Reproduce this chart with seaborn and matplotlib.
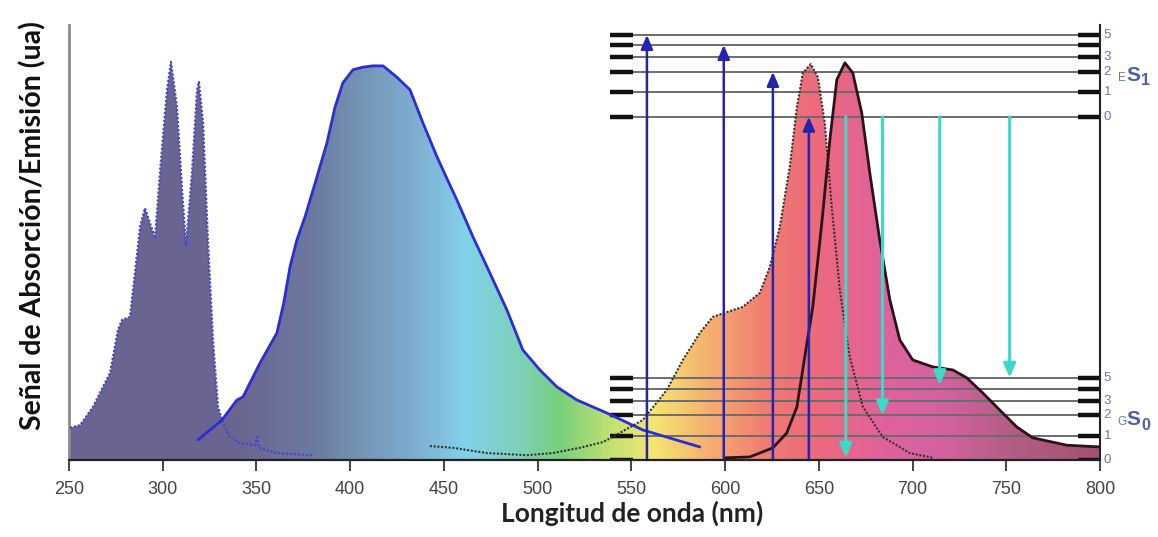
import numpy as np
import pandas as pd
import matplotlib
matplotlib.use("Agg")
import matplotlib.pyplot as plt
import seaborn as sns
from matplotlib.colors import LinearSegmentedColormap
from matplotlib.path import Path
from matplotlib.patches import PathPatch

# ---------------- data ----------------
# absorption band of the UV dye (dotted blue outline)
abs1_nm = [250.5, 255.9, 262.8, 268.1, 271.9, 276.1, 278.3, 282.5, 285.2, 287.9,
           290.5, 295.9, 298.5, 302.3, 304.4, 307.6, 310.3, 312.4, 315.6, 318.3,
           319.3, 321.5, 324.1, 326.8, 329.5, 332.1, 335.9, 341.2, 349.2, 350.3,
           351.2, 360.9, 380.1]
abs1_val = [7.4, 8.0, 12.2, 16.8, 20.0, 29.9, 32.2, 32.9, 43.0, 53.6,
            57.9, 51.0, 66.0, 85.1, 91.5, 81.1, 62.1, 49.4, 66.0, 85.1,
            86.9, 77.5, 50.6, 27.6, 12.2, 8.5, 5.3, 3.9, 3.4, 5.7,
            2.8, 1.6, 1.1]

# emission band of the UV dye (solid blue outline)
em1_nm = [318.8, 331.6, 339.6, 342.8, 351.9, 360.9, 364.5, 367.9, 371.5, 375.9,
          382.3, 387.6, 391.9, 396.1, 401.5, 406.8, 412.0, 417.5, 424.9, 431.9,
          438.8, 446.3, 451.5, 456.9, 465.5, 474.5, 483.6, 492.1, 501.2, 510.3,
          520.9, 536.9, 556.1, 586.5]
em1_val = [4.6, 9.2, 13.8, 14.5, 22.3, 29.2, 36.0, 44.4, 50.5, 55.9,
           65.1, 72.9, 81.1, 86.7, 89.7, 90.3, 90.6, 90.6, 88.0, 85.1,
           77.5, 69.7, 64.8, 59.8, 51.3, 43.0, 34.5, 25.3, 20.7, 16.8,
           13.8, 10.8, 6.9, 3.0]

# absorption band of the red dye (dotted dark outline)
abs2_nm = [442.5, 454.8, 472.9, 494.3, 508.1, 522.5, 534.8, 540.1, 556.1, 568.9,
           577.5, 586.5, 593.5, 600.9, 609.5, 618.5, 623.9, 629.2, 634.5, 638.3,
           641.5, 645.7, 649.5, 653.2, 656.9, 661.2, 666.5, 673.5, 684.1, 698.5,
           710.8]
abs2_val = [3.2, 2.8, 1.6, 1.1, 1.6, 2.8, 4.1, 5.3, 9.2, 16.1,
            23.0, 29.2, 32.9, 34.0, 35.2, 38.4, 44.4, 53.6, 67.4, 81.1,
            89.0, 91.0, 88.0, 77.5, 58.2, 39.1, 23.7, 12.2, 5.3, 1.6,
            0.5]

# emission band of the red dye (solid dark outline)
em2_nm = [599.9, 613.2, 625.5, 632.9, 638.3, 642.5, 646.8, 651.6, 655.9, 659.6,
          663.9, 668.1, 672.9, 677.2, 682.5, 687.9, 693.2, 700.1, 710.8, 721.5,
          728.9, 737.5, 746.5, 755.6, 764.1, 782.3, 800.0]
em2_val = [0.5, 0.7, 2.8, 6.2, 12.2, 23.7, 35.2, 54.5, 73.6, 87.4,
           91.3, 89.0, 79.8, 66.0, 50.6, 36.8, 27.6, 23.0, 21.4, 20.7,
           18.9, 15.4, 11.5, 7.6, 5.1, 3.4, 3.0]

# Jablonski energy levels (vibrational sub-levels 5..0)
s1_levels = [97.7, 95.4, 92.6, 89.2, 84.6, 78.9]
s0_levels = [18.9, 16.3, 13.6, 10.3, 5.5, 0.0]
level_labels = ["5", "", "3", "2", "1", "0"]

# excitation (blue, upward) and emission (cyan, downward) transitions
exc_nm = [558.3, 599.3, 625.5, 644.7]
exc_top = [97.7, 95.4, 89.2, 78.9]
emi_nm = [664.4, 684.0, 714.5, 751.8]
emi_bottom = [0.5, 10.3, 17.2, 18.9]

x_ticks = [250, 300, 350, 400, 450, 500, 550, 600, 650, 700, 750, 800]

# spectral colour gradient used to fill the bands
grad_nm = [250, 340, 380, 405, 435, 462, 490, 512, 540, 562, 592, 622, 650, 685, 715, 755, 800]
grad_col = ["#6a6490", "#6a6690", "#6c7aa0", "#7394b5", "#7eaed0", "#82d2ea", "#7dd0b8",
            "#78d07c", "#c4e272", "#f5e672", "#f5ae70", "#f07c72", "#ec6a7c", "#e0629c",
            "#d462a0", "#b25e84", "#a45272"]

# ---------------- figure ----------------
sns.set_theme(style="white")
plt.rcParams["font.family"] = ["Liberation Sans", "DejaVu Sans"]

fig = plt.figure(figsize=(11.58, 5.37), dpi=100)
ax = fig.add_axes([0.0596, 0.1434, 0.8903, 0.8101])

# gradient fill clipped to the envelope of all four bands
grid = np.linspace(250, 800, 2201)
env = np.zeros_like(grid)
for xs, ys in [(abs1_nm, abs1_val), (em1_nm, em1_val), (abs2_nm, abs2_val), (em2_nm, em2_val)]:
    v = np.interp(grid, xs, ys, left=0, right=0)
    env = np.maximum(env, v)
verts = [(250, 0)] + list(zip(grid, env)) + [(800, 0), (250, 0)]
clip = PathPatch(Path(verts), transform=ax.transData, facecolor="none", edgecolor="none")
pos = [(g - 250) / 550 for g in grad_nm]
cmap = LinearSegmentedColormap.from_list("spec", list(zip(pos, grad_col)))
im = ax.imshow(np.linspace(0, 1, 1100)[np.newaxis, :], extent=[250, 800, 0, 100],
               aspect="auto", cmap=cmap, origin="lower", zorder=1, interpolation="bilinear")
im.set_clip_path(clip)

# energy levels
for lv in [s1_levels, s0_levels]:
    ax.hlines(lv, 538.5, 800, color="#6c6c6c", lw=1.4, zorder=2)
    ax.hlines(lv, 538.5, 550.8, color="#111111", lw=3.2, zorder=2)
    ax.hlines(lv, 788.1, 800, color="#111111", lw=3.2, zorder=2)

# spectra outlines
df1 = pd.DataFrame({"nm": abs1_nm, "val": abs1_val})
df2 = pd.DataFrame({"nm": em1_nm, "val": em1_val})
df3 = pd.DataFrame({"nm": abs2_nm, "val": abs2_val})
df4 = pd.DataFrame({"nm": em2_nm, "val": em2_val})
sns.lineplot(data=df1, x="nm", y="val", ax=ax, color="#4a46c8", lw=1.6,
             linestyle=(0, (1, 0.8)), sort=False, estimator=None, zorder=3)
sns.lineplot(data=df2, x="nm", y="val", ax=ax, color="#2c2cd8", lw=2.0,
             sort=False, estimator=None, zorder=3)
sns.lineplot(data=df3, x="nm", y="val", ax=ax, color="#3a3030", lw=1.5,
             linestyle=(0, (1, 0.8)), sort=False, estimator=None, zorder=3)
sns.lineplot(data=df4, x="nm", y="val", ax=ax, color="#2a1418", lw=2.0,
             sort=False, estimator=None, zorder=3)

# transitions
for x, top in zip(exc_nm, exc_top):
    ax.annotate("", xy=(x, top), xytext=(x, 0),
                arrowprops=dict(arrowstyle="-|>,head_length=0.7,head_width=0.3",
                                color="#2424b0", lw=1.8, shrinkA=0, shrinkB=0),
                zorder=4)
for x, bot in zip(emi_nm, emi_bottom):
    ax.annotate("", xy=(x, bot), xytext=(x, s1_levels[-1]),
                arrowprops=dict(arrowstyle="-|>,head_length=0.7,head_width=0.3",
                                color="#3cd8c8", lw=2.2, shrinkA=0, shrinkB=0),
                zorder=4)

# level labels on the right
ytr = ax.get_yaxis_transform()
lab_col = "#6676b4"
for lv in [s1_levels, s0_levels]:
    for y, t in zip(lv, level_labels):
        if t:
            ax.text(1.0035, y, t, transform=ytr, fontsize=9.5, color=lab_col,
                    va="center", ha="left")
for y, small, sub in [(87.1, "E", "1"), (8.0, "G", "0")]:
    ax.text(1.0170, y, small, transform=ytr, fontsize=8.5, color=lab_col, va="baseline")
    ax.text(1.0255, y, "S", transform=ytr, fontsize=15, fontweight="bold",
            color="#4e5ea8", va="baseline")
    ax.text(1.0400, y - 1.0, sub, transform=ytr, fontsize=11.5, fontweight="bold",
            color="#4e5ea8", va="baseline")

# axes styling
ax.set_xlim(250, 800)
ax.set_ylim(0, 100)
ax.set_xticks(x_ticks)
ax.set_xticklabels([str(t) for t in x_ticks], fontsize=13, color="#444444")
ax.set_yticks([])
ax.tick_params(axis="x", direction="out", length=8, width=1.4, color="#444444",
               bottom=True, pad=7)
ax.spines["top"].set_visible(False)
ax.spines["left"].set_color("#8a8a8a")
ax.spines["left"].set_linewidth(2.0)
ax.spines["right"].set_color("#222222")
ax.spines["right"].set_linewidth(1.5)
ax.spines["bottom"].set_color("#222222")
ax.spines["bottom"].set_linewidth(1.6)
ax.spines["bottom"].set_zorder(5)

ax.set_xlabel("Longitud de onda (nm)", fontsize=19, fontweight="bold", color="#222222",
              family=["Lato", "DejaVu Sans"])
ax.xaxis.label.set_va("center")
ax.xaxis.set_label_coords(0.546, -0.122)
ax.set_ylabel("Señal de Absorción/Emisión (ua)", fontsize=20.5, fontweight="bold",
              color="#111111", family=["Lato", "DejaVu Sans"])
ax.yaxis.label.set_va("center")
ax.yaxis.set_label_coords(-0.035, 0.54)

fig.savefig("out.png", dpi=100)
